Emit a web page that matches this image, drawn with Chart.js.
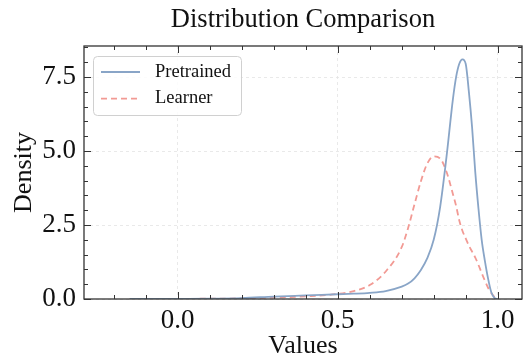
<!DOCTYPE html>
<html lang="en">
<head>
  <meta charset="UTF-8" />
  <title>Distribution Comparison</title>
  <script src="https://cdn.jsdelivr.net/npm/chart.js"></script>
  <style>
    body { margin: 0; background: #fff; }
    #wrap { width: 524px; height: 359px; }
  </style>
</head>
<body>
  <div id="wrap"><canvas id="kdeChart"></canvas></div>
  <script>
    // x grid of the density estimates
    const xValues = [-0.15, -0.1, 0, 0.1, 0.2, 0.3, 0.4, 0.5, 0.55, 0.6, 0.65, 0.7, 0.72, 0.74, 0.76, 0.78,
      0.8, 0.82, 0.84, 0.86, 0.87, 0.88, 0.89, 0.9, 0.91, 0.92, 0.93, 0.94, 0.95, 0.96, 0.97, 0.98, 0.99, 1.0];
    const pretrained = [0, 0, 0.005, 0.01, 0.03, 0.08, 0.12, 0.16, 0.18, 0.21, 0.27, 0.42, 0.52, 0.7, 0.98, 1.38,
      2.0, 3.1, 4.8, 6.75, 7.5, 7.95, 8.1, 7.95, 7.0, 5.8, 4.28, 3.05, 2.0, 1.29, 0.69, 0.23, 0.04, 0];
    const learner = [0, 0.003, 0.005, 0.01, 0.02, 0.05, 0.09, 0.17, 0.27, 0.47, 0.93, 1.75, 2.4, 3.2, 3.98, 4.58,
      4.82, 4.75, 4.3, 3.55, 3.15, 2.65, 2.3, 2.05, 1.8, 1.6, 1.4, 1.15, 0.88, 0.62, 0.38, 0.2, 0.07, 0.01];
    const xTicks = [0, 0.5, 1.0];
    const yTicks = [0, 2.5, 5.0, 7.5];
    const chartTitle = 'Distribution Comparison';

    const serif = '"Liberation Serif", "DejaVu Serif", serif';

    function toPoints(ys) {
      return xValues.map((x, i) => ({ x: x, y: ys[i] }));
    }

    // title over the plot area, frame, inward ticks on all sides, legend box
    const framePlugin = {
      id: 'frame',
      afterDraw(chart) {
        const ctx = chart.ctx;
        const a = chart.chartArea;
        const xs = chart.scales.x, ys = chart.scales.y;
        ctx.save();

        ctx.fillStyle = '#111';
        ctx.font = '26.5px ' + serif;
        ctx.textAlign = 'center';
        ctx.textBaseline = 'alphabetic';
        ctx.fillText(chartTitle, (a.left + a.right) / 2, 27);
        ctx.textAlign = 'left';

        ctx.strokeStyle = '#333';
        ctx.lineWidth = 1.3;
        ctx.strokeRect(a.left, a.top, a.right - a.left, a.bottom - a.top);
        ctx.lineWidth = 1;
        for (let i = -3; i <= 10; i++) {
          const v = i / 10;
          if (v < xs.min || v > xs.max) continue;
          const px = Math.round(xs.getPixelForValue(v)) + 0.5;
          const len = (i % 5 === 0) ? 7 : 4;
          ctx.beginPath();
          ctx.moveTo(px, a.bottom); ctx.lineTo(px, a.bottom - len);
          ctx.moveTo(px, a.top); ctx.lineTo(px, a.top + len);
          ctx.stroke();
        }
        for (let i = 0; i <= 17; i++) {
          const v = i / 2;
          if (v > ys.max) continue;
          const py = Math.round(ys.getPixelForValue(v)) + 0.5;
          const len = (i % 5 === 0) ? 7 : 4;
          ctx.beginPath();
          ctx.moveTo(a.left, py); ctx.lineTo(a.left + len, py);
          ctx.moveTo(a.right, py); ctx.lineTo(a.right - len, py);
          ctx.stroke();
        }

        // legend
        const bx = a.left + 9, by = a.top + 10, bw = 148, bh = 59;
        ctx.fillStyle = 'rgba(255,255,255,0.85)';
        ctx.strokeStyle = '#d0d0d0';
        ctx.lineWidth = 1;
        ctx.beginPath();
        ctx.roundRect(bx + 0.5, by + 0.5, bw, bh, 4);
        ctx.fill();
        ctx.stroke();
        ctx.font = '18.5px ' + serif;
        ctx.textBaseline = 'middle';
        chart.data.datasets.forEach((ds, i) => {
          const y = by + 16 + i * 26.6;
          ctx.strokeStyle = ds.borderColor;
          ctx.lineWidth = ds.borderWidth;
          ctx.setLineDash(ds.borderDash || []);
          ctx.beginPath();
          ctx.moveTo(bx + 8, y); ctx.lineTo(bx + 47, y);
          ctx.stroke();
          ctx.setLineDash([]);
          ctx.fillStyle = '#111';
          ctx.fillText(ds.label, bx + 62, y);
        });
        ctx.restore();
      }
    };

    new Chart(document.getElementById('kdeChart'), {
      type: 'line',
      data: {
        datasets: [
          {
            label: 'Pretrained',
            data: toPoints(pretrained),
            borderColor: '#89a5c7',
            borderWidth: 1.8,
            pointRadius: 0,
            cubicInterpolationMode: 'monotone',
            fill: false
          },
          {
            label: 'Learner',
            data: toPoints(learner),
            borderColor: '#f29a94',
            borderWidth: 1.8,
            borderDash: [6, 4],
            pointRadius: 0,
            cubicInterpolationMode: 'monotone',
            fill: false
          }
        ]
      },
      options: {
        responsive: true,
        maintainAspectRatio: false,
        animation: false,
        layout: { padding: { left: 0, right: 2, top: 46, bottom: 0 } },
        plugins: {
          legend: { display: false },
          tooltip: { enabled: false },
          title: { display: false }
        },
        scales: {
          x: {
            type: 'linear',
            min: -0.293,
            max: 1.076,
            afterBuildTicks: s => { s.ticks = xTicks.map(v => ({ value: v })); },
            afterFit: s => { s.height = 60; },
            grid: { color: '#e4e4e4', lineWidth: 0.8, drawTicks: false },
            border: { display: false, dash: [3, 3] },
            ticks: {
              color: '#111',
              padding: 6,
              maxRotation: 0,
              font: { family: serif, size: 27 },
              callback: v => v.toFixed(1)
            },
            title: {
              display: true,
              text: 'Values',
              color: '#111',
              font: { family: serif, size: 26, lineHeight: 1.0 },
              padding: { top: 0, bottom: 0 }
            }
          },
          y: {
            min: 0,
            max: 8.55,
            afterBuildTicks: s => { s.ticks = yTicks.map(v => ({ value: v })); },
            afterFit: s => { s.width = 84; },
            grid: { color: '#e4e4e4', lineWidth: 0.8, drawTicks: false },
            border: { display: false, dash: [3, 3] },
            ticks: {
              color: '#111',
              padding: 8,
              font: { family: serif, size: 27 },
              callback: v => v.toFixed(1)
            },
            title: {
              display: true,
              text: 'Density',
              color: '#111',
              font: { family: serif, size: 26, lineHeight: 1.0 },
              padding: { top: 11, bottom: 0 }
            }
          }
        }
      },
      plugins: [framePlugin]
    });
  </script>
</body>
</html>
